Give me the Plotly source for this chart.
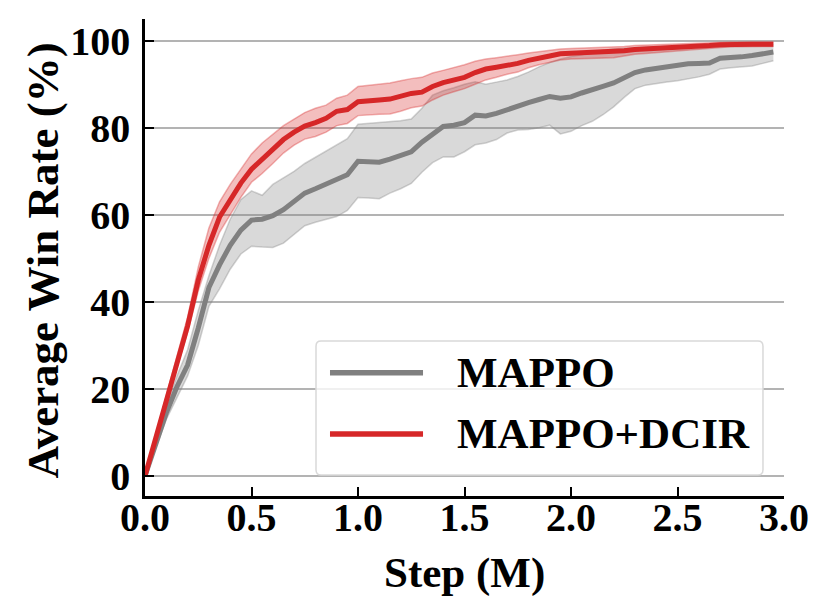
import plotly.graph_objects as go

# steps in millions
steps = [0.00, 0.05, 0.10, 0.15, 0.20, 0.25, 0.30, 0.35, 0.40, 0.45,
         0.50, 0.55, 0.60, 0.65, 0.70, 0.75, 0.80, 0.85, 0.90, 0.95,
         1.00, 1.05, 1.10, 1.15, 1.20, 1.25, 1.30, 1.35, 1.40, 1.45,
         1.50, 1.55, 1.60, 1.65, 1.70, 1.75, 1.80, 1.85, 1.90, 1.95,
         2.00, 2.05, 2.10, 2.15, 2.20, 2.25, 2.30, 2.35, 2.40, 2.45,
         2.50, 2.55, 2.60, 2.65, 2.70, 2.75, 2.80, 2.85, 2.90, 2.95]

mappo_mean = [0, 7.5, 14.5, 20.5, 25.5, 34, 43.3, 48.5, 53, 56.5,
              58.8, 59, 59.8, 61.2, 63.2, 65, 66, 67, 68, 69.2,
              72.3, 72.3, 72.1, 72.8, 73.5, 74.5, 76.7, 78.5, 80.3, 80.6,
              81.2, 82.9, 82.7, 83.3, 84.2, 85, 85.8, 86.5, 87.2, 86.8,
              87.1, 88, 88.9, 89.5, 90.3, 91.6, 92.7, 93.3, 93.7, 94,
              94.3, 94.7, 94.8, 94.9, 96.0, 96.1, 96.3, 96.6, 97.0, 97.4]
mappo_upper = [0, 8.5, 16, 23, 29, 38, 46, 53, 59, 63.5,
               65.5, 64.5, 67, 68.5, 70, 71.8, 73.2, 74.6, 76, 77.5,
               80.8, 81, 81.2, 81.4, 81.6, 82, 84.5, 87.5, 88.5, 89.2,
               90, 90.6, 90, 90.5, 91, 91.8, 92.8, 94, 95, 95.8,
               96.4, 96.8, 97.3, 97.8, 98.1, 98.3, 98.4, 98.5, 98.6, 98.7,
               98.8, 98.9, 99, 99.1, 99.2, 99.2, 99.2, 99.2, 99.2, 99.2]
mappo_lower = [0, 6.5, 13, 18, 23, 30, 39, 43, 47.5, 51,
               52.8, 52.6, 52.5, 53.5, 55.5, 57.5, 58.3, 59, 59.6, 61,
               64, 63.9, 63.7, 65, 66, 67.2, 69.8, 72, 73.3, 73.3,
               74.5, 76.1, 76.5, 77.3, 78.8, 79.5, 79.6, 80, 80.6, 78.6,
               79.2, 80.5, 81.5, 83, 84.8, 87, 89, 89.8, 90.2, 90.5,
               90.8, 91.2, 91.7, 92.3, 93.5, 93.8, 94, 94.2, 94.8, 95.4]

dcir_mean = [0, 8.7, 17.4, 26, 34.5, 45, 53, 59.5, 63.5, 67.3,
             70.5, 72.8, 75, 77.3, 79, 80.4, 81.2, 82.2, 83.8, 84.2,
             86, 86.3, 86.4, 86.6, 87.2, 87.9, 88.2, 89.5, 90.4, 91,
             91.6, 92.7, 93.5, 93.9, 94.3, 94.8, 95.5, 96.1, 96.5, 97.0,
             97.1, 97.2, 97.3, 97.3, 97.4, 97.7, 98.0, 98.1, 98.2, 98.4,
             98.5, 98.6, 98.7, 98.9, 99.1, 99.2, 99.2, 99.2, 99.2, 99.2]
dcir_upper = [0, 9.5, 18.5, 27.5, 36.5, 48, 57, 63, 67, 70.5,
              74, 76.5, 78.5, 80.5, 82, 83.5, 84.5, 85.2, 86.8, 87.5,
              89.5, 89.8, 90, 90.3, 90.8, 91.3, 91.6, 92.6, 93.2, 93.8,
              94.5, 95.3, 95.8, 96.1, 96.4, 96.8, 97.2, 97.5, 97.8, 98.1,
              98.2, 98.3, 98.4, 98.4, 98.5, 98.7, 98.9, 99.0, 99.1, 99.2,
              99.3, 99.4, 99.5, 99.6, 99.7, 99.7, 99.7, 99.7, 99.7, 99.7]
dcir_lower = [0, 8, 16.5, 25, 33, 42.5, 50, 56, 60, 64,
              67.5, 69.5, 71.8, 74.2, 76, 77.4, 78, 79, 80.5, 81,
              82.8, 83, 83.1, 83.2, 83.8, 84.6, 85, 86.4, 87.5, 88.3,
              89, 90, 91, 91.6, 92.3, 92.8, 93.8, 94.5, 95.1, 95.6,
              95.8, 95.9, 96.0, 96.0, 96.1, 96.5, 96.9, 97.1, 97.3, 97.5,
              97.7, 97.8, 98, 98.2, 98.5, 98.6, 98.6, 98.7, 98.7, 98.7]

labels = ["MAPPO", "MAPPO+DCIR"]
x_ticks = [0, 0.5, 1.0, 1.5, 2.0, 2.5, 3.0]
y_ticks = [0, 20, 40, 60, 80, 100]

GRAY = "#808080"
RED = "#d62728"
FONT = dict(family="Liberation Serif, Times New Roman, serif", size=40,
            color="black", weight="bold")

fig = go.Figure()

def add_run(mean, upper, lower, color, fill, edge):
    fig.add_trace(go.Scatter(x=steps, y=upper, mode="lines",
                             line=dict(color=edge, width=1.5),
                             showlegend=False, hoverinfo="skip"))
    fig.add_trace(go.Scatter(x=steps, y=lower, mode="lines", fill="tonexty",
                             fillcolor=fill, line=dict(color=edge, width=1.5),
                             showlegend=False, hoverinfo="skip"))
    fig.add_trace(go.Scatter(x=steps, y=mean, mode="lines",
                             line=dict(color=color, width=5),
                             showlegend=False))

add_run(mappo_mean, mappo_upper, mappo_lower, GRAY,
        "rgba(128,128,128,0.3)", "rgba(128,128,128,0.35)")
add_run(dcir_mean, dcir_upper, dcir_lower, RED,
        "rgba(214,39,40,0.3)", "rgba(214,39,40,0.35)")

# hand-drawn legend box (rounded), in paper coords
x0, x1, y0, y1 = 0.2676, 0.9671, 0.044, 0.325
rx, ry = 0.008, 0.011
box = (f"M{x0+rx},{y0} L{x1-rx},{y0} Q{x1},{y0} {x1},{y0+ry} "
       f"L{x1},{y1-ry} Q{x1},{y1} {x1-rx},{y1} L{x0+rx},{y1} "
       f"Q{x0},{y1} {x0},{y1-ry} L{x0},{y0+ry} Q{x0},{y0} {x0+rx},{y0} Z")
fig.add_shape(type="path", path=box, xref="paper", yref="paper",
              fillcolor="rgba(255,255,255,0.8)",
              line=dict(color="#d9d9d9", width=1.5))

rows = [0.2585, 0.13]
for lab, col, ry_ in zip(labels, [GRAY, RED], rows):
    fig.add_shape(type="line", xref="paper", yref="paper",
                  x0=0.2895, x1=0.4351, y0=ry_, y1=ry_,
                  line=dict(color=col, width=5.5))
    fig.add_annotation(x=0.4851, y=ry_, xref="paper", yref="paper",
                       text=lab, showarrow=False, xanchor="left",
                       yanchor="middle", font=dict(FONT, size=43))

# axis titles placed by hand
fig.add_annotation(x=0.5, y=0, xref="paper", yref="paper", yshift=-77,
                   text="Step (M)", showarrow=False, yanchor="middle",
                   font=dict(FONT, size=43))
fig.add_annotation(x=0, y=0.4937, xref="paper", yref="paper", xshift=-102,
                   text="Average Win Rate (%)", showarrow=False,
                   textangle=-90, xanchor="center", yanchor="middle",
                   font=dict(FONT, size=45))

# page has an 8px body margin, so the figure is 16px smaller than the window
fig.update_layout(
    width=816, height=599,
    margin=dict(l=137, r=40, t=11, b=111),
    paper_bgcolor="white", plot_bgcolor="white",
    font=FONT, showlegend=False,
)
fig.update_xaxes(range=[0, 3.0], tickvals=x_ticks, tickformat=".1f",
                 showgrid=False, zeroline=False,
                 showline=True, linecolor="black", linewidth=2.5,
                 ticks="inside", ticklen=9, tickwidth=2, tickcolor="black",
                 ticklabelstandoff=-16)
fig.update_yaxes(range=[-4.6, 105.0], tickvals=y_ticks,
                 showgrid=True, gridcolor="#b3b3b3", gridwidth=2,
                 zeroline=False,
                 showline=True, linecolor="black", linewidth=2.5,
                 ticks="inside", ticklen=9, tickwidth=2, tickcolor="black",
                 ticklabelstandoff=4)

fig.write_html("out.html")
